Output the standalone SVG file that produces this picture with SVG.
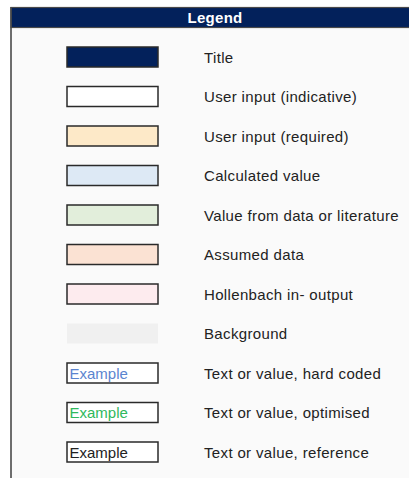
<svg xmlns="http://www.w3.org/2000/svg" width="409" height="478" viewBox="0 0 409 478">
<style>
text{font-family:"Liberation Sans",Arial,sans-serif;font-size:15px;fill:#222}
.lbl{letter-spacing:0.35px}
.sw{stroke:#2a2a2a;stroke-width:1.5}
.hdr{font-weight:bold;fill:#fff;text-anchor:middle;letter-spacing:0.3px}
</style>
<rect x="0" y="0" width="409" height="478" fill="#fff"/>
<rect x="11" y="27" width="398" height="451" fill="#fafafa"/>
<g id="header">
<rect x="11" y="7.5" width="400" height="20" fill="#03215b" stroke="#4a4a4a" stroke-width="1.2"/>
<text class="hdr" x="215" y="23">Legend</text>
</g>
<line x1="11" y1="7" x2="11" y2="478" stroke="#4a4a4a" stroke-width="1.6"/>
<g id="title"><rect class="sw" x="67" y="47" width="91" height="20" fill="#03215b"/><text class="lbl" x="204" y="62.5">Title</text></g>
<g id="user-indicative"><rect class="sw" x="67" y="86.5" width="91" height="20" fill="#ffffff"/><text class="lbl" x="204" y="102">User input (indicative)</text></g>
<g id="user-required"><rect class="sw" x="67" y="126" width="91" height="20" fill="#fde9c8"/><text class="lbl" x="204" y="141.5">User input (required)</text></g>
<g id="calculated"><rect class="sw" x="67" y="165.5" width="91" height="20" fill="#dde9f5"/><text class="lbl" x="204" y="181">Calculated value</text></g>
<g id="data"><rect class="sw" x="67" y="205" width="91" height="20" fill="#e2eedb"/><text class="lbl" x="204" y="220.5">Value from data or literature</text></g>
<g id="assumed"><rect class="sw" x="67" y="244.5" width="91" height="20" fill="#fbe2d3"/><text class="lbl" x="204" y="260">Assumed data</text></g>
<g id="hollenbach"><rect class="sw" x="67" y="284" width="91" height="20" fill="#fdebee"/><text class="lbl" x="204" y="299.5">Hollenbach in- output</text></g>
<g id="background"><rect x="67" y="323.5" width="91" height="20" fill="#f0f0f0"/><text class="lbl" x="204" y="339">Background</text></g>
<g id="hard-coded"><rect class="sw" x="67" y="363" width="91" height="20" fill="#ffffff"/><text x="69.5" y="378.5" style="fill:#5b84cf">Example</text><text class="lbl" x="204" y="378.5">Text or value, hard coded</text></g>
<g id="optimised"><rect class="sw" x="67" y="402.5" width="91" height="20" fill="#ffffff"/><text x="69.5" y="418" style="fill:#2fb85c">Example</text><text class="lbl" x="204" y="418">Text or value, optimised</text></g>
<g id="reference"><rect class="sw" x="67" y="442" width="91" height="20" fill="#ffffff"/><text x="69.5" y="457.5">Example</text><text class="lbl" x="204" y="457.5">Text or value, reference</text></g>
</svg>
